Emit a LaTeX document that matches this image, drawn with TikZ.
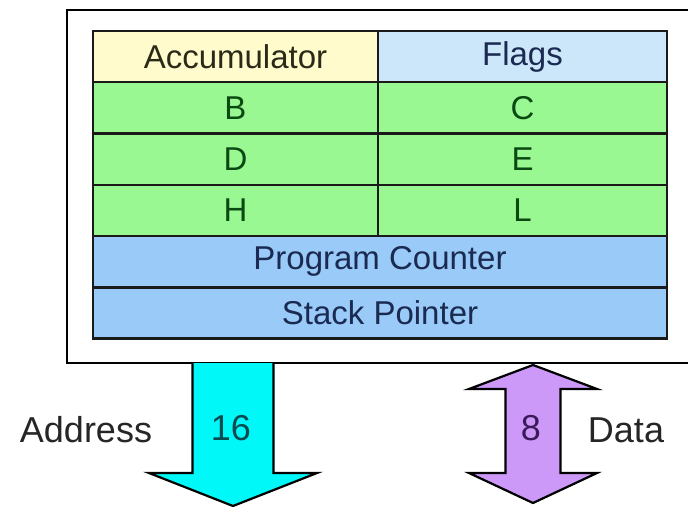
\documentclass[tikz,border=0pt]{standalone}
\usepackage{fontspec}
\setmainfont{Liberation Sans}
\definecolor{accfill}{HTML}{FFFBCC}
\definecolor{flagfill}{HTML}{CCE6FA}
\definecolor{regfill}{HTML}{99F891}
\definecolor{pcfill}{HTML}{99CAF8}
\definecolor{cyanfill}{HTML}{00F8F8}
\definecolor{purplefill}{HTML}{CC99F8}
\definecolor{acctext}{HTML}{2A2A18}
\definecolor{bluetext}{HTML}{1A2A50}
\definecolor{greentext}{HTML}{0A4A12}
\definecolor{tealtext}{HTML}{0A4A50}
\definecolor{purpletext}{HTML}{3A1A5A}
\definecolor{gridline}{HTML}{1A1A1A}
\tikzset{
  cell/.style={draw=gridline, line width=2.4pt, inner sep=0pt, minimum height=51.3pt,
    font=\fontsize{33}{36}\selectfont},
  lcell/.style={cell, minimum width=285pt},
  rcell/.style={cell, minimum width=289pt},
  wcell/.style={cell, minimum width=574pt},
  lbl/.style={inner sep=0pt, font=\fontsize{36}{40}\selectfont},
  outline/.style={draw=black, line width=2.2pt, line join=miter},
}
\begin{document}
\begin{tikzpicture}[x=1pt,y=-1pt]
\useasboundingbox (0,0) rectangle (688,506);
\clip (0,0) rectangle (688,506);
\fill[white] (0,0) rectangle (688,506);
% outer box
\draw[outline, fill=white] (67,10) rectangle (700,363);
\coordinate (boxbottom) at (0,363);
% table
\node[lcell, fill=accfill, text=acctext] (acc) at (235.5,56.5) {Accumulator};
\node[rcell, fill=flagfill, text=bluetext] (flags) at (522.5,56.5) {Flags};
\node[lcell, fill=regfill, text=greentext] (b) at (235.5,107.8) {B};
\node[rcell, fill=regfill, text=greentext] (c) at (522.5,107.8) {C};
\node[lcell, fill=regfill, text=greentext] (d) at (235.5,159.1) {D};
\node[rcell, fill=regfill, text=greentext] (e) at (522.5,159.1) {E};
\node[lcell, fill=regfill, text=greentext] (h) at (235.5,210.4) {H};
\node[rcell, fill=regfill, text=greentext] (l) at (522.5,210.4) {L};
\node[wcell, fill=pcfill, text=bluetext] (pc) at (380,261.7) {Program Counter};
\node[wcell, fill=pcfill, text=bluetext] (sp) at (380,313) {Stack Pointer};
% address arrow (cyan, down)
\coordinate (a1) at (192.5,363);
\coordinate (a2) at (192.5,473);
\coordinate (a3) at (149,473);
\coordinate (a4) at (233,506);
\coordinate (a5) at (317,473);
\coordinate (a6) at (273.5,473);
\coordinate (a7) at (273.5,363);
\fill[cyanfill] (a1) -- (a2) -- (a3) -- (a4) -- (a5) -- (a6) -- (a7) -- cycle;
\draw[outline] (a1) -- (a2) -- (a3) -- (a4) -- (a5) -- (a6) -- (a7);
% data arrow (purple, both ways)
\coordinate (d1) at (533,365);
\coordinate (d2) at (597,389);
\coordinate (d3) at (560.5,389);
\coordinate (d4) at (560.5,473);
\coordinate (d5) at (597,473);
\coordinate (d6) at (533,503);
\coordinate (d7) at (469,473);
\coordinate (d8) at (505.5,473);
\coordinate (d9) at (505.5,389);
\coordinate (d10) at (469,389);
\draw[outline, fill=purplefill] (d1) -- (d2) -- (d3) -- (d4) -- (d5) -- (d6) -- (d7) -- (d8) -- (d9) -- (d10) -- cycle;
% labels
\node[lbl, text=black!85] (addr) at (86,430) {Address};
\node[lbl, text=tealtext] (w16) at (231,428) {16};
\node[lbl, text=purpletext] (w8) at (531,428) {8};
\node[lbl, text=black!85] (data) at (626,430) {Data};
\end{tikzpicture}
\end{document}
